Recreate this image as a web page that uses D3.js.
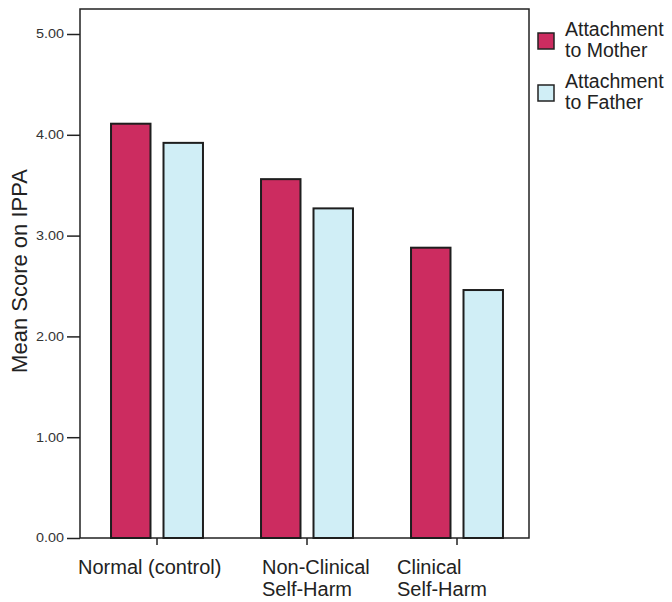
<!DOCTYPE html>
<html><head><meta charset="utf-8">
<script src="https://cdn.jsdelivr.net/npm/d3@7"></script>
<style>body{margin:0;background:#fff;}svg{display:block;font-family:"Liberation Sans",Arial,sans-serif;}</style>
</head><body>
<svg id="c" width="672" height="602"></svg>
<script>
const categories = ["Normal (control)", "Non-Clinical Self-Harm", "Clinical Self-Harm"];
const categoryLines = [["Normal (control)"], ["Non-Clinical", "Self-Harm"], ["Clinical", "Self-Harm"]];
const seriesNames = ["Attachment to Mother", "Attachment to Father"];
const legendLines = [["Attachment", "to Mother"], ["Attachment", "to Father"]];
const motherValues = [4.11, 3.56, 2.88];
const fatherValues = [3.92, 3.27, 2.46];
const yTicks = [0, 1, 2, 3, 4, 5];
const colors = ["#cc2c60", "#d0eef6"];

const svg = d3.select("#c");
const L = 80, R = 529, T = 9, B = 538;
const y = d3.scaleLinear().domain([0, 5]).range([B, 34]);
const x = d3.scaleBand().domain(categories).range([82, 532]).paddingInner(0).paddingOuter(0);
const xs = d3.scaleBand().domain(seriesNames).range([0, x.bandwidth()]).paddingInner(0.248).paddingOuter(0.553);

// frame
svg.append("rect").attr("x", L).attr("y", T).attr("width", R - L).attr("height", B - T)
  .attr("fill", "none").attr("stroke", "#222").attr("stroke-width", 1.5);

const series = [motherValues, fatherValues];
const g = svg.append("g");
categories.forEach((c, i) => {
  series.forEach((vals, s) => {
    g.append("rect")
      .attr("x", x(c) + xs(seriesNames[s]))
      .attr("y", y(vals[i]))
      .attr("width", xs.bandwidth())
      .attr("height", y(0) - y(vals[i]))
      .attr("fill", colors[s]).attr("stroke", "#1e1e1e").attr("stroke-width", 2);
  });
});

// y axis
const yAxis = d3.axisLeft(y).tickValues(yTicks).tickFormat(d3.format(".2f")).tickSize(13).tickPadding(3);
const ya = svg.append("g").attr("transform", `translate(${L},0)`).call(yAxis);
ya.select(".domain").remove();
ya.selectAll(".tick line").attr("stroke", "#222").attr("stroke-width", 1.5);
ya.selectAll(".tick text").attr("font-size", 12).attr("fill", "#333")
  .attr("font-family", "Liberation Sans, Arial, sans-serif")
  .attr("textLength", 28).attr("lengthAdjust", "spacingAndGlyphs");

// x axis
const xAxis = d3.axisBottom(x).tickSize(7).tickFormat("");
const xa = svg.append("g").attr("transform", `translate(0,${B})`).call(xAxis);
xa.select(".domain").remove();
xa.selectAll(".tick line").attr("stroke", "#222").attr("stroke-width", 1.5);

// x labels
const labelOffsets = [-79, -45, -60];
categories.forEach((c, i) => {
  const cx = x(c) + x.bandwidth() / 2;
  const t = svg.append("text").attr("x", cx + labelOffsets[i]).attr("y", 574)
    .attr("font-size", 20).attr("fill", "#222");
  categoryLines[i].forEach((ln, j) => {
    t.append("tspan").attr("x", cx + labelOffsets[i]).attr("dy", j === 0 ? 0 : 22).text(ln);
  });
});

// y label
svg.append("text").attr("transform", "translate(27,271) rotate(-90)")
  .attr("text-anchor", "middle").attr("font-size", 22).attr("fill", "#222")
  .text("Mean Score on IPPA");

// legend
seriesNames.forEach((s, i) => {
  const ly = 33 + i * 52;
  svg.append("rect").attr("x", 538).attr("y", ly).attr("width", 16).attr("height", 16)
    .attr("fill", colors[i]).attr("stroke", "#222").attr("stroke-width", 1.5);
  const t = svg.append("text").attr("x", 565).attr("y", ly + 3).attr("font-size", 19.5).attr("fill", "#222");
  legendLines[i].forEach((ln, j) => {
    t.append("tspan").attr("x", 565).attr("dy", j === 0 ? 0 : 21).text(ln);
  });
});
</script>
</body></html>
